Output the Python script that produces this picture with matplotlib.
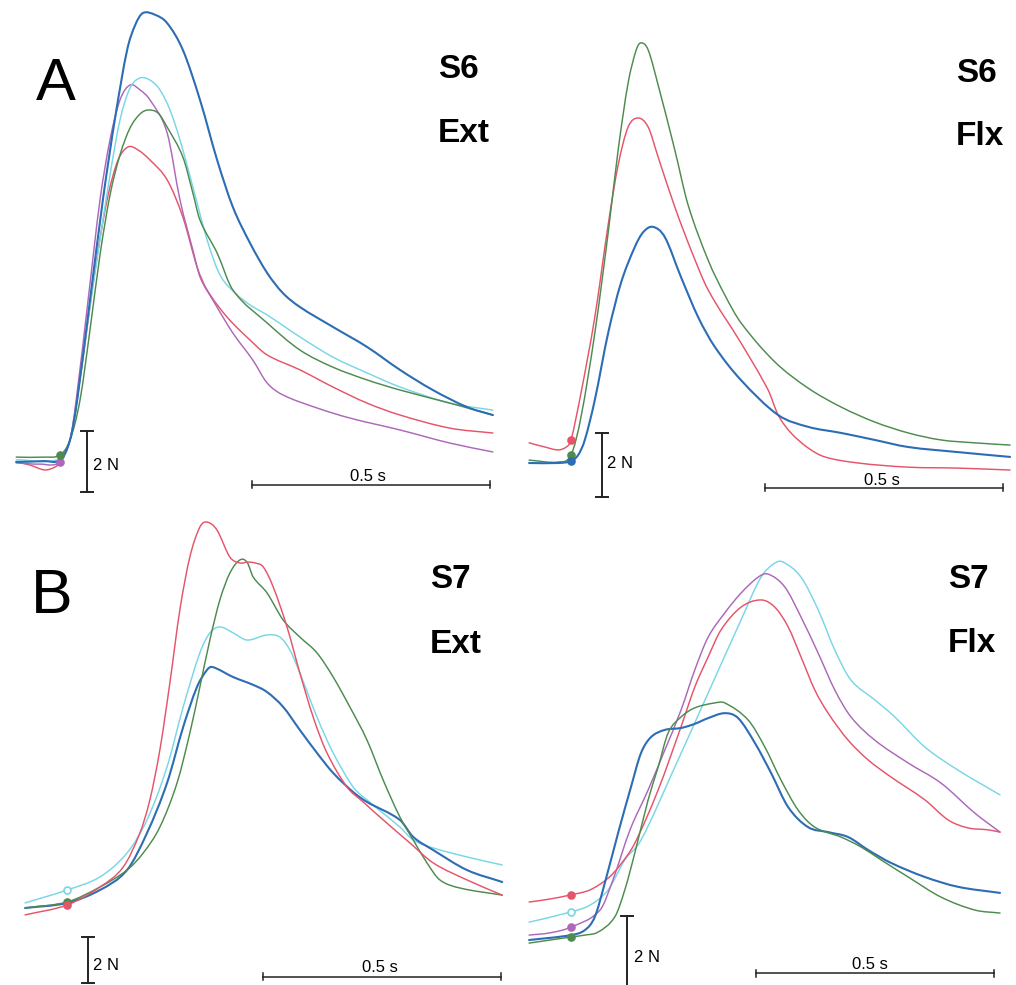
import matplotlib
matplotlib.use("Agg")
import matplotlib.pyplot as plt
from matplotlib.path import Path
from matplotlib.patches import PathPatch

# figure size in pixels
W, H = 1016, 985
MS_PER_PX = 2.1  # 0.5 s bar is ~238 px long

# ---- A, S6 Ext : time in ms from onset, force in N ----
a_ext_blue_t = [-92, -32, 0, 21, 36, 63, 90, 116, 141, 158, 174, 200, 225, 258, 294, 330, 363, 399, 435, 468, 504, 573, 645, 714, 783, 855, 909]
a_ext_blue_f = [0.00, 0.03, 0.07, 0.72, 2.03, 5.31, 8.59, 11.31, 13.51, 14.33, 14.72, 14.66, 14.39, 13.51, 11.87, 9.90, 8.36, 7.18, 6.20, 5.54, 5.08, 4.43, 3.77, 3.02, 2.36, 1.80, 1.54]
a_ext_cyan_t = [-92, 0, 21, 36, 59, 84, 105, 126, 147, 168, 189, 210, 231, 252, 279, 309, 336, 368, 399, 435, 504, 573, 645, 714, 819, 909]
a_ext_cyan_f = [0.07, 0.10, 0.72, 2.03, 4.66, 7.28, 9.41, 11.21, 12.26, 12.59, 12.52, 12.20, 11.54, 10.56, 9.02, 7.28, 6.13, 5.54, 5.15, 4.82, 4.10, 3.44, 2.92, 2.46, 1.93, 1.70]
a_ext_mag_t = [-92, -42, 0, 21, 34, 59, 84, 105, 126, 147, 168, 189, 225, 252, 279, 294, 321, 363, 405, 435, 468, 540, 609, 714, 819, 909]
a_ext_mag_f = [-0.03, -0.07, 0.00, 0.72, 2.03, 5.31, 8.59, 10.56, 11.87, 12.36, 12.20, 11.87, 10.79, 8.59, 6.95, 6.07, 5.31, 4.23, 3.34, 2.59, 2.20, 1.77, 1.44, 1.05, 0.62, 0.33]
a_ext_green_t = [-92, -32, 0, 21, 42, 63, 84, 105, 126, 147, 168, 185, 206, 225, 258, 279, 294, 330, 363, 435, 504, 573, 645, 714, 819, 909]
a_ext_green_f = [0.16, 0.16, 0.23, 0.72, 2.03, 4.33, 6.79, 8.75, 10.07, 10.95, 11.41, 11.54, 11.44, 10.98, 10.00, 8.82, 7.93, 6.85, 5.64, 4.56, 3.67, 3.11, 2.69, 2.36, 1.93, 1.54]
a_ext_red_t = [-92, -63, -32, -10, 0, 21, 36, 59, 80, 101, 122, 143, 164, 189, 225, 258, 288, 309, 351, 399, 435, 504, 573, 645, 714, 819, 909]
a_ext_red_f = [0.00, -0.10, -0.26, -0.16, 0.00, 0.72, 2.03, 4.66, 6.95, 8.75, 9.90, 10.33, 10.23, 9.90, 9.25, 8.03, 6.39, 5.64, 4.75, 4.00, 3.51, 3.02, 2.46, 1.93, 1.54, 1.11, 0.95]

# ---- A, S6 Flx ----
a_flx_green_t = [-88, -27, 0, 21, 50, 78, 99, 120, 137, 147, 162, 183, 218, 246, 288, 323, 357, 428, 498, 567, 638, 708, 777, 848, 922]
a_flx_green_f = [0.09, 0.03, 0.25, 1.44, 4.06, 7.19, 9.78, 11.88, 12.91, 13.13, 12.91, 11.81, 9.78, 8.06, 6.34, 5.25, 4.38, 3.16, 2.34, 1.75, 1.28, 0.94, 0.72, 0.63, 0.56]
a_flx_red_t = [-88, -55, -27, -10, 0, 21, 50, 78, 99, 120, 141, 162, 183, 218, 252, 288, 357, 414, 435, 462, 498, 533, 603, 708, 813, 922]
a_flx_red_f = [0.63, 0.50, 0.41, 0.50, 0.72, 2.19, 4.56, 7.44, 9.31, 10.50, 10.78, 10.50, 9.56, 8.00, 6.66, 5.41, 3.75, 2.28, 1.50, 0.94, 0.47, 0.19, 0.00, -0.13, -0.16, -0.22]
a_flx_blue_t = [-88, -27, 0, 15, 29, 50, 78, 105, 134, 152, 172, 197, 231, 267, 302, 357, 435, 498, 567, 638, 708, 813, 922]
a_flx_blue_f = [0.00, 0.00, 0.06, 0.25, 0.72, 1.97, 4.06, 5.63, 6.75, 7.22, 7.38, 7.06, 5.81, 4.56, 3.63, 2.59, 1.50, 1.13, 0.94, 0.72, 0.50, 0.34, 0.19]

# ---- B, S7 Ext ----
b_ext_red_t = [-88, 0, 69, 118, 153, 174, 195, 216, 237, 258, 279, 294, 315, 342, 363, 380, 395, 412, 433, 462, 489, 517, 546, 588, 622, 664, 720, 769, 840, 914]
b_ext_red_f = [-0.43, 0.00, 0.78, 1.65, 3.13, 4.57, 6.74, 9.65, 12.83, 15.13, 16.43, 16.65, 16.30, 15.13, 14.87, 14.91, 14.87, 14.70, 13.83, 12.09, 10.09, 8.17, 6.61, 5.13, 4.48, 3.70, 2.70, 1.83, 1.09, 0.43]
b_ext_green_t = [-88, 0, 69, 126, 160, 195, 231, 258, 279, 300, 321, 342, 363, 378, 391, 420, 454, 489, 525, 559, 594, 630, 664, 699, 727, 756, 783, 825, 914]
b_ext_green_f = [-0.13, 0.13, 0.78, 1.52, 2.26, 3.39, 5.30, 7.48, 9.48, 11.52, 13.26, 14.43, 15.00, 14.91, 14.26, 13.57, 12.39, 11.65, 10.96, 9.91, 8.61, 7.17, 5.43, 3.83, 2.83, 1.83, 1.09, 0.74, 0.43]
b_ext_cyan_t = [-88, 0, 69, 126, 168, 210, 244, 279, 300, 321, 349, 378, 420, 447, 468, 489, 525, 559, 601, 630, 699, 727, 769, 840, 914]
b_ext_cyan_f = [0.09, 0.65, 1.22, 2.26, 3.70, 6.00, 8.61, 10.96, 11.83, 12.09, 11.83, 11.52, 11.74, 11.65, 11.09, 10.09, 8.17, 6.61, 5.13, 4.57, 3.39, 2.83, 2.48, 2.09, 1.74]
b_ext_blue_t = [-88, 0, 69, 126, 168, 210, 244, 273, 294, 305, 349, 391, 420, 454, 489, 525, 559, 601, 630, 699, 727, 769, 840, 914]
b_ext_blue_f = [-0.13, 0.09, 0.65, 1.52, 3.13, 5.30, 7.74, 9.48, 10.22, 10.35, 9.91, 9.57, 9.26, 8.61, 7.61, 6.61, 5.74, 4.91, 4.48, 3.70, 2.96, 2.39, 1.52, 1.00]

# ---- B, S7 Flx ----
b_flx_red_t = [-88, -44, 0, 40, 78, 103, 134, 183, 231, 260, 288, 315, 357, 399, 428, 456, 483, 512, 540, 582, 624, 672, 743, 792, 834, 876, 901]
b_flx_red_f = [0.92, 1.00, 1.11, 1.24, 1.55, 1.89, 2.47, 3.87, 5.53, 6.58, 7.37, 8.08, 8.68, 8.87, 8.68, 8.16, 7.37, 6.50, 5.89, 5.18, 4.66, 4.21, 3.61, 3.08, 2.87, 2.82, 2.76]
b_flx_mag_t = [-88, -44, 0, 61, 88, 124, 162, 197, 231, 260, 288, 323, 357, 393, 414, 449, 483, 519, 554, 588, 638, 708, 777, 848, 901]
b_flx_mag_f = [0.05, 0.11, 0.26, 0.71, 1.50, 2.82, 3.87, 4.92, 5.97, 7.03, 7.89, 8.53, 9.05, 9.47, 9.55, 9.21, 8.42, 7.47, 6.50, 5.79, 5.18, 4.58, 4.05, 3.26, 2.76]
b_flx_cyan_t = [-88, 0, 40, 78, 113, 147, 218, 288, 357, 399, 428, 445, 483, 519, 554, 588, 638, 680, 743, 813, 901]
b_flx_cyan_f = [0.39, 0.66, 0.84, 1.24, 2.03, 2.55, 4.47, 6.42, 8.34, 9.47, 9.84, 9.87, 9.47, 8.61, 7.55, 6.76, 6.24, 5.79, 5.00, 4.39, 3.74]
b_flx_green_t = [-88, 0, 29, 57, 92, 113, 134, 162, 183, 204, 231, 260, 302, 323, 372, 407, 441, 477, 512, 567, 609, 651, 708, 777, 848, 901]
b_flx_green_f = [-0.16, 0.00, 0.05, 0.13, 0.53, 1.24, 2.21, 3.61, 4.47, 5.37, 5.79, 6.03, 6.16, 6.16, 5.71, 5.00, 4.13, 3.34, 2.89, 2.63, 2.37, 2.03, 1.58, 1.05, 0.71, 0.63]
b_flx_blue_t = [-88, 0, 29, 50, 71, 99, 126, 147, 168, 197, 231, 260, 288, 323, 351, 386, 420, 456, 498, 540, 582, 624, 672, 743, 813, 901]
b_flx_blue_f = [-0.08, 0.05, 0.18, 0.53, 1.42, 2.74, 3.95, 4.84, 5.26, 5.45, 5.50, 5.61, 5.76, 5.89, 5.76, 5.11, 4.32, 3.42, 2.89, 2.76, 2.63, 2.29, 1.95, 1.58, 1.32, 1.16]

COLORS = {
    "blue": "#2c6db4",
    "cyan": "#79d6e6",
    "mag": "#ad68b9",
    "green": "#4d8b4f",
    "red": "#e6546a",
}
INK = "#222222"
FONT = "Liberation Sans"

fig = plt.figure(figsize=(W / 100, H / 100), dpi=100)


def panel_axes(box, origin, px_per_n):
    # box and origin in figure pixels, converted to ms / N limits
    x0, y0, x1, y1 = box
    ox, oy = origin
    ax = fig.add_axes([x0 / W, 1 - y1 / H, (x1 - x0) / W, (y1 - y0) / H])
    ax.set_xlim((x0 - ox) * MS_PER_PX, (x1 - ox) * MS_PER_PX)
    ax.set_ylim((oy - y1) / px_per_n, (oy - y0) / px_per_n)
    ax.axis("off")
    return ax


def smooth_path(t, f):
    # cubic Hermite segments through the read points, as Bezier curves
    n = len(t)
    slopes = []
    for i in range(n):
        a, b = max(i - 1, 0), min(i + 1, n - 1)
        slopes.append((f[b] - f[a]) / (t[b] - t[a]))
    verts = [(t[0], f[0])]
    codes = [Path.MOVETO]
    for i in range(n - 1):
        d = (t[i + 1] - t[i]) / 3
        verts += [(t[i] + d, f[i] + slopes[i] * d),
                  (t[i + 1] - d, f[i + 1] - slopes[i + 1] * d),
                  (t[i + 1], f[i + 1])]
        codes += [Path.CURVE4] * 3
    return Path(verts, codes)


def trace(ax, t, f, color, dot=False, hollow=False):
    lw = 1.5 if color == "blue" else 1.05
    ax.add_patch(PathPatch(smooth_path(t, f), fill=False, edgecolor=COLORS[color],
                           lw=lw, capstyle="round", joinstyle="round"))
    if dot:
        i = t.index(0)
        ax.plot([t[i]], [f[i]], "o", ms=5,
                mfc="white" if hollow else COLORS[color],
                mec=COLORS[color], mew=1.2)


def scale_bars(ax, vt, vf0, ht0, hf, px_per_n):
    cap_ms = 6 * MS_PER_PX
    ax.plot([vt, vt], [vf0, vf0 + 2], color=INK, lw=1.4)
    for y in (vf0, vf0 + 2):
        ax.plot([vt - cap_ms, vt + cap_ms], [y, y], color=INK, lw=1.4)
    ax.plot([ht0, ht0 + 500], [hf, hf], color=INK, lw=1.1)
    tick = 3.5 / px_per_n
    for x in (ht0, ht0 + 500):
        ax.plot([x, x], [hf - tick, hf + tick], color=INK, lw=1.1)


def ftext(x, y, s, **kw):
    fig.text(x / W, 1 - y / H, s, family=FONT, color="black", va="baseline", **kw)


# A left: S6 Ext
ax = panel_axes((0, 0, 508, 500), (60, 462), 30.5)
trace(ax, a_ext_red_t, a_ext_red_f, "red")
trace(ax, a_ext_mag_t, a_ext_mag_f, "mag", dot=True)
trace(ax, a_ext_cyan_t, a_ext_cyan_f, "cyan")
trace(ax, a_ext_green_t, a_ext_green_f, "green", dot=True)
trace(ax, a_ext_blue_t, a_ext_blue_f, "blue")
scale_bars(ax, 57, -0.98, 403, -0.75, 30.5)

# A right: S6 Flx
ax = panel_axes((508, 0, 1016, 500), (571, 463), 32)
trace(ax, a_flx_red_t, a_flx_red_f, "red", dot=True)
trace(ax, a_flx_green_t, a_flx_green_f, "green", dot=True)
trace(ax, a_flx_blue_t, a_flx_blue_f, "blue", dot=True)
scale_bars(ax, 65, -1.06, 407, -0.78, 32)

# B left: S7 Ext
ax = panel_axes((0, 500, 508, 985), (67, 905), 23)
trace(ax, b_ext_cyan_t, b_ext_cyan_f, "cyan", dot=True, hollow=True)
trace(ax, b_ext_blue_t, b_ext_blue_f, "blue")
trace(ax, b_ext_green_t, b_ext_green_f, "green", dot=True)
trace(ax, b_ext_red_t, b_ext_red_f, "red", dot=True)
scale_bars(ax, 44, -3.39, 412, -3.13, 23)

# B right: S7 Flx
ax = panel_axes((508, 500, 1016, 985), (571, 937), 38)
trace(ax, b_flx_cyan_t, b_flx_cyan_f, "cyan", dot=True, hollow=True)
trace(ax, b_flx_mag_t, b_flx_mag_f, "mag", dot=True)
trace(ax, b_flx_red_t, b_flx_red_f, "red", dot=True)
trace(ax, b_flx_blue_t, b_flx_blue_f, "blue")
trace(ax, b_flx_green_t, b_flx_green_f, "green", dot=True)
scale_bars(ax, 118, -1.45, 389, -0.95, 38)

# panel letters and labels
ftext(36, 100, "A", fontsize=43)
ftext(31, 613, "B", fontsize=45)
for x, y, s in [(438, 78, "S6"), (438, 142, "Ext"), (956, 82, "S6"), (956, 145, "Flx"),
                (430, 588, "S7"), (430, 653, "Ext"), (948, 588, "S7"), (948, 652, "Flx")]:
    ftext(x, y, s, fontsize=24, fontweight="bold")

# scale bar labels
for x, y, s, ha in [(93, 470, "2 N", "left"), (368, 481, "0.5 s", "center"),
                    (607, 468, "2 N", "left"), (882, 485, "0.5 s", "center"),
                    (93, 970, "2 N", "left"), (380, 972, "0.5 s", "center"),
                    (634, 962, "2 N", "left"), (870, 969, "0.5 s", "center")]:
    ftext(x, y, s, fontsize=12, ha=ha)

fig.savefig("out.png", dpi=100)
